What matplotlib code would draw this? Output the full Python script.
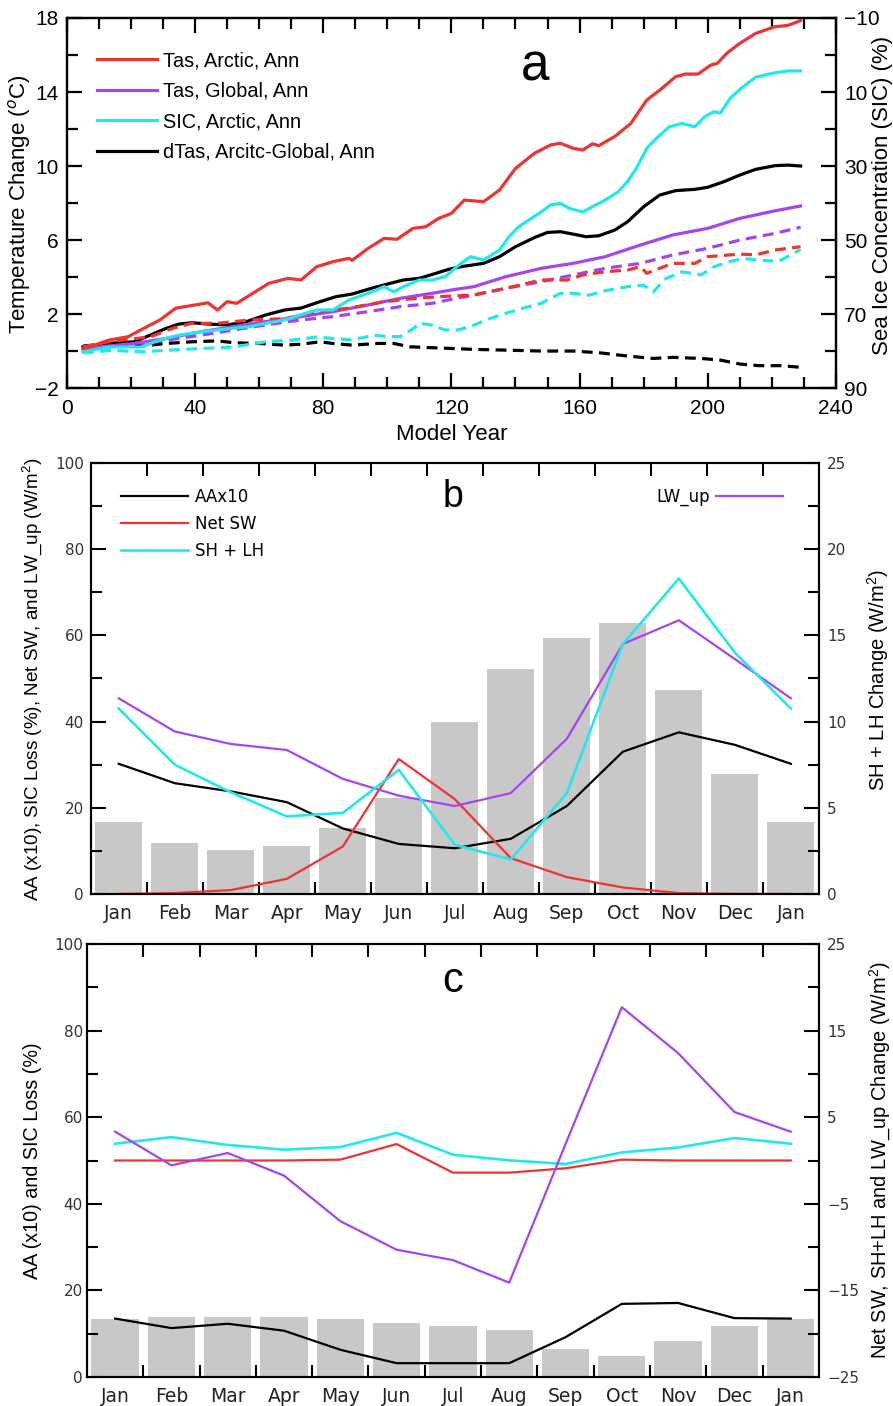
import matplotlib
matplotlib.use("Agg")
import matplotlib.pyplot as plt
import numpy as np

plt.rcParams['font.family'] = ['Liberation Sans', 'DejaVu Sans']
plt.rcParams['mathtext.fontset'] = 'custom'
plt.rcParams['mathtext.rm'] = 'Liberation Sans'

RED = '#ee3333'
PURPLE = '#a445ee'
CYAN = '#22e8ee'
BLACK = '#000000'
GRAY = '#c8c8c8'

# ---------------- Panel a data ----------------
tas_arctic_yr = [5, 13, 19, 24, 29, 34, 40, 44, 47, 50, 53, 58, 63, 69, 73, 78, 83, 88, 89, 94, 99, 103, 108, 112,
                 116, 120, 124, 130, 135, 140, 146, 151, 154, 158, 161, 164, 166, 171, 176, 181, 185, 190, 193, 197,
                 201, 203, 206, 210, 215, 221, 225, 229]
tas_arctic = [0.09, 0.59, 0.77, 1.23, 1.68, 2.32, 2.49, 2.61, 2.22, 2.67, 2.58, 3.12, 3.66, 3.93, 3.84, 4.56, 4.83,
              5.01, 4.90, 5.55, 6.09, 6.04, 6.63, 6.72, 7.17, 7.44, 8.16, 8.07, 8.70, 9.87, 10.70, 11.14, 11.23,
              10.96, 10.86, 11.20, 11.10, 11.60, 12.30, 13.57, 14.10, 14.83, 14.97, 14.97, 15.46, 15.55, 16.10,
              16.63, 17.17, 17.53, 17.60, 17.86]

tas_global_yr = [5, 21, 31, 42, 52, 62, 73, 83, 94, 104, 114, 120, 127, 137, 148, 158, 168, 179, 189, 200, 210, 221, 229]
tas_global = [0.14, 0.41, 0.68, 1.05, 1.32, 1.59, 1.86, 2.13, 2.49, 2.85, 3.12, 3.30, 3.48, 4.02, 4.47, 4.74, 5.10,
              5.73, 6.27, 6.63, 7.17, 7.58, 7.84]

sic_arctic_yr = [5, 13, 23, 29, 35, 42, 47, 52, 57, 62, 68, 73, 78, 83, 88, 94, 99, 102, 105, 110, 114, 118, 123, 126,
                 130, 135, 138, 141, 145, 148, 151, 154, 157, 161, 164, 168, 172, 175, 178, 181, 184, 188, 192, 196,
                 199, 202, 204, 207, 211, 215, 221, 225, 229]
sic_arctic = [80.2, 78.9, 78.9, 77.0, 75.7, 74.8, 74.3, 73.8, 73.4, 72.5, 71.6, 70.2, 68.9, 68.9, 66.2, 64.4, 62.6,
              64.0, 62.6, 60.8, 60.8, 59.9, 56.3, 54.5, 55.4, 52.7, 49.1, 46.4, 44.1, 42.4, 40.5, 40.1, 41.5, 42.4,
              41.0, 39.2, 37.0, 34.2, 30.2, 25.2, 22.5, 19.4, 18.5, 19.4, 16.7, 15.3, 15.7, 11.7, 8.6, 6.0, 4.8,
              4.3, 4.3]

dtas_yr = [5, 13, 21, 26, 31, 35, 39, 44, 50, 56, 62, 68, 73, 79, 84, 89, 95, 100, 105, 110, 114, 119, 123, 130, 135,
           140, 146, 150, 154, 158, 162, 166, 171, 175, 180, 185, 190, 196, 200, 205, 210, 215, 221, 225, 229]
dtas = [0.23, 0.41, 0.50, 0.86, 1.23, 1.46, 1.53, 1.46, 1.41, 1.59, 1.95, 2.22, 2.32, 2.67, 2.94, 3.08, 3.39, 3.62,
        3.84, 3.93, 4.14, 4.41, 4.56, 4.74, 5.10, 5.64, 6.14, 6.41, 6.45, 6.32, 6.18, 6.23, 6.54, 6.99, 7.80, 8.43,
        8.67, 8.74, 8.85, 9.15, 9.51, 9.82, 10.02, 10.05, 10.00]

# dashed (second experiment)
tas_arctic2_yr = [5, 13, 26, 33, 39, 47, 57, 68, 78, 88, 99, 109, 116, 127, 137, 148, 156, 161, 168, 175, 179, 181,
                  189, 196, 200, 210, 215, 221, 225, 229]
tas_arctic2 = [0.23, 0.50, 0.77, 1.23, 1.50, 1.50, 1.68, 1.75, 2.13, 2.32, 2.67, 2.85, 2.94, 3.03, 3.39, 3.84, 3.84,
               4.11, 4.29, 4.38, 4.56, 4.20, 4.74, 4.74, 5.10, 5.24, 5.20, 5.46, 5.55, 5.64]

tas_global2_yr = [5, 21, 31, 42, 52, 62, 73, 83, 94, 104, 114, 119, 127, 137, 148, 158, 168, 179, 189, 200, 210, 221, 229]
tas_global2 = [0.05, 0.41, 0.59, 0.86, 1.14, 1.41, 1.68, 1.86, 2.13, 2.40, 2.58, 2.76, 3.03, 3.39, 3.75, 4.11, 4.47,
               4.74, 5.19, 5.55, 6.00, 6.36, 6.69]

sic_arctic2_yr = [5, 14, 23, 31, 42, 52, 62, 71, 78, 83, 89, 96, 100, 104, 108, 110, 114, 118, 122, 127, 132, 137, 142,
                  148, 154, 158, 163, 168, 175, 180, 183, 187, 192, 198, 202, 207, 211, 216, 222, 226, 229]
sic_arctic2 = [80.5, 79.8, 80.2, 79.8, 79.3, 78.9, 77.5, 77.0, 76.2, 76.6, 77.0, 75.7, 76.1, 76.1, 74.0, 72.5, 73.0,
               74.3, 74.3, 73.0, 71.2, 69.8, 68.5, 67.1, 64.4, 64.4, 64.9, 63.7, 62.6, 62.2, 64.0, 60.4, 58.6, 59.4,
               57.2, 55.8, 55.0, 55.4, 55.8, 54.0, 52.5]

dtas2_yr = [5, 14, 23, 31, 39, 47, 52, 60, 68, 73, 79, 83, 89, 97, 102, 107, 114, 120, 127, 137, 148, 158, 166, 175,
            183, 189, 198, 204, 210, 216, 223, 229]
dtas2 = [0.27, 0.41, 0.27, 0.41, 0.50, 0.55, 0.45, 0.41, 0.32, 0.37, 0.50, 0.41, 0.32, 0.41, 0.41, 0.23, 0.18, 0.14,
         0.09, 0.05, 0.00, 0.00, -0.09, -0.27, -0.40, -0.34, -0.40, -0.49, -0.70, -0.79, -0.79, -0.88]

# ---------------- Panel b / c data ----------------
months = ['Jan', 'Feb', 'Mar', 'Apr', 'May', 'Jun', 'Jul', 'Aug', 'Sep', 'Oct', 'Nov', 'Dec', 'Jan']

b_sic_loss = [16.8, 11.8, 10.2, 11.2, 15.3, 22.2, 39.8, 52.3, 59.3, 62.8, 47.3, 27.8, 16.8]
b_aa10 = [30.2, 25.7, 23.8, 21.3, 15.2, 11.6, 10.6, 12.8, 20.4, 33.0, 37.5, 34.6, 30.2]
b_netsw = [0.0, 0.2, 0.9, 3.5, 11.0, 31.3, 22.0, 8.3, 3.9, 1.5, 0.2, 0.0, 0.0]
b_lwup = [45.4, 37.7, 34.8, 33.4, 26.7, 22.8, 20.4, 23.4, 36.0, 58.0, 63.5, 54.5, 45.4]
b_shlh = [10.75, 7.5, 5.9, 4.5, 4.7, 7.2, 2.85, 2.0, 5.85, 14.5, 18.3, 14.0, 10.75]

c_sic_loss = [13.5, 13.9, 13.9, 13.9, 13.5, 12.5, 11.9, 10.9, 6.4, 4.9, 8.3, 11.9, 13.5]
c_aa10 = [13.5, 11.3, 12.3, 10.7, 6.3, 3.2, 3.2, 3.2, 9.2, 16.9, 17.1, 13.6, 13.5]
c_netsw = [0.0, 0.0, 0.0, 0.0, 0.1, 1.9, -1.4, -1.4, -0.9, 0.1, 0.0, 0.0, 0.0]
c_shlh = [1.94, 2.7, 1.8, 1.25, 1.55, 3.2, 0.67, 0.02, -0.4, 0.94, 1.5, 2.6, 1.94]
c_lwup = [3.33, -0.56, 0.87, -1.75, -7.0, -10.3, -11.5, -14.1, 1.9, 17.7, 12.4, 5.6, 3.33]

# ---------------- Figure ----------------
fig = plt.figure(figsize=(8.93, 14.06), dpi=100)

# ===== Panel a =====
axa = fig.add_axes([0.075, 0.724, 0.861, 0.2632])
axa2 = axa.twinx()
lw_a = 2.3
dash = (3.4, 2.0)
l1, = axa.plot(tas_arctic_yr, tas_arctic, color=RED, lw=lw_a, label='Tas, Arctic, Ann', zorder=5)
l2, = axa.plot(tas_global_yr, tas_global, color=PURPLE, lw=lw_a, label='Tas, Global, Ann', zorder=4)
l4, = axa.plot(dtas_yr, dtas, color=BLACK, lw=lw_a, label='dTas, Arcitc-Global, Ann', zorder=3)
axa.plot(tas_arctic2_yr, tas_arctic2, color=RED, lw=lw_a, dashes=dash, zorder=4)
axa.plot(tas_global2_yr, tas_global2, color=PURPLE, lw=lw_a, dashes=dash, zorder=3)
axa.plot(dtas2_yr, dtas2, color=BLACK, lw=lw_a, dashes=dash, zorder=3)
l3, = axa2.plot(sic_arctic_yr, sic_arctic, color=CYAN, lw=lw_a, label='SIC, Arctic, Ann')
axa2.plot(sic_arctic2_yr, sic_arctic2, color=CYAN, lw=lw_a, dashes=dash)

axa.set_xlim(0, 240)
axa.set_ylim(-2, 18)
axa2.set_ylim(90, -10)
axa.set_xticks(np.arange(0, 241, 40))
axa.set_xticks(np.arange(0, 241, 10), minor=True)
axa.set_yticks(np.arange(-2, 19, 4))
axa.set_yticks(np.arange(-2, 19, 2), minor=True)
axa2.set_yticks(np.arange(-10, 91, 20))
axa2.set_yticks(np.arange(-10, 91, 10), minor=True)
axa.set_yticklabels(['\u22122', '2', '6', '10', '14', '18'])
axa2.set_yticklabels(['\u221210', '10', '30', '50', '70', '90'])
axa.tick_params(axis='both', which='both', direction='in', top=True, width=1.6, labelsize=15)
axa.tick_params(axis='y', which='both', right=False, pad=6)
axa.tick_params(which='major', length=11)
axa.tick_params(which='minor', length=8)
axa.tick_params(axis='x', which='both', pad=8)
axa2.tick_params(axis='y', which='both', direction='in', width=1.6, labelsize=15, pad=6)
axa2.tick_params(which='major', length=11)
axa2.tick_params(which='minor', length=8)
for sp in list(axa.spines.values()) + list(axa2.spines.values()):
    sp.set_linewidth(1.6)
axa.set_xlabel('Model Year', fontsize=16, labelpad=4)
axa.set_ylabel('Temperature Change ($^o$C)', fontsize=16)
axa.yaxis.set_label_coords(-0.044, 0.497)
axa2.set_ylabel('Sea Ice Concentration (SIC) (%)', fontsize=16)
axa2.yaxis.set_label_coords(1.047, 0.52)
axa.text(0.609, 0.868, 'a', transform=axa.transAxes, fontsize=37, ha='center', va='center')
axa.legend(handles=[l1, l2, l3, l4], loc='upper left', bbox_to_anchor=(0.039, 0.91), frameon=False,
           fontsize=14.3, handlelength=3.0, handletextpad=0.3, labelspacing=0.58, borderaxespad=0, borderpad=0)


def monthly_axes(rect, left_lim, right_lim):
    ax = fig.add_axes(rect)
    ax2 = ax.twinx()
    x = np.arange(len(months))
    ax.set_xlim(-0.5, len(months) - 0.5)
    ax.set_xticks(x)
    ax.set_xticklabels(months)
    ax.set_xticks(np.arange(0.5, len(months) - 1, 1.0), minor=True)
    ax.tick_params(axis='x', which='major', length=0, labelsize=13.5, pad=7, labelcolor='#222222')
    ax.tick_params(axis='x', which='minor', direction='in', length=9, width=1.5, top=True, bottom=True)
    ax.set_ylim(*left_lim)
    ax2.set_ylim(*right_lim)
    ax.tick_params(axis='y', which='both', direction='in', width=1.5, labelsize=11, labelcolor='#333333', pad=5)
    ax.tick_params(axis='y', which='major', length=11)
    ax.tick_params(axis='y', which='minor', length=8)
    ax2.tick_params(axis='y', which='both', direction='in', width=1.5, labelsize=11, labelcolor='#333333', pad=6)
    ax2.tick_params(axis='y', which='major', length=11)
    ax2.tick_params(axis='y', which='minor', length=8)
    for sp in list(ax.spines.values()) + list(ax2.spines.values()):
        sp.set_linewidth(1.5)
    return ax, ax2, x


def dejavu_ticks(ax, ax2):
    for lbl in ax.get_xticklabels() + ax.get_yticklabels() + ax2.get_yticklabels():
        lbl.set_fontfamily('DejaVu Sans')


# ===== Panel b =====
axb, axb2, xb = monthly_axes([0.1016, 0.3642, 0.8154, 0.3065], (0, 100), (0, 25))
axb.bar(xb, b_sic_loss, width=0.84, color=GRAY, zorder=1)
lw_b = 1.6
hb1, = axb.plot(xb, b_aa10, color=BLACK, lw=lw_b, label='AAx10', zorder=3)
hb2, = axb.plot(xb, b_netsw, color=RED, lw=lw_b, label='Net SW', zorder=3)
hb4, = axb.plot(xb, b_lwup, color=PURPLE, lw=lw_b, label='LW_up', zorder=3)
hb3, = axb2.plot(xb, b_shlh, color=CYAN, lw=lw_b + 0.3, label='SH + LH')
axb.set_yticks(np.arange(0, 101, 20))
axb.set_yticks(np.arange(0, 101, 10), minor=True)
axb2.set_yticks(np.arange(0, 26, 5))
axb2.set_yticks(np.arange(0, 26, 2.5), minor=True)
dejavu_ticks(axb, axb2)
axb.set_ylabel('AA (x10), SIC Loss (%), Net SW, and LW_up (W/m$^2$)', fontsize=13.6)
axb.yaxis.set_label_coords(-0.063, 0.497)
axb2.set_ylabel('SH + LH Change (W/m$^2$)', fontsize=14.5)
axb2.yaxis.set_label_coords(1.064, 0.497)
axb.text(0.497, 0.921, 'b', transform=axb.transAxes, fontsize=27, ha='center', va='center')
leg1 = axb.legend(handles=[hb1, hb2, hb3], loc='upper left', bbox_to_anchor=(0.042, 0.942), frameon=False,
                  prop={'family': 'DejaVu Sans', 'size': 12}, handlelength=4.0, handletextpad=0.4,
                  labelspacing=0.55, borderaxespad=0, borderpad=0)
axb.add_artist(leg1)
axb.legend(handles=[hb4], loc='upper right', bbox_to_anchor=(0.9506, 0.942), frameon=False,
           prop={'family': 'DejaVu Sans', 'size': 12}, handlelength=4.0, handletextpad=0.4,
           markerfirst=False, borderaxespad=0, borderpad=0)

# ===== Panel c =====
axc, axc2, xc = monthly_axes([0.0974, 0.0206, 0.8196, 0.308], (0, 100), (-25, 25))
axc.bar(xc, c_sic_loss, width=0.84, color=GRAY, zorder=1)
axc.plot(xc, c_aa10, color=BLACK, lw=lw_b, zorder=3)
axc2.plot(xc, c_netsw, color=RED, lw=lw_b)
axc2.plot(xc, c_shlh, color=CYAN, lw=lw_b + 0.3)
axc2.plot(xc, c_lwup, color=PURPLE, lw=lw_b)
axc.set_yticks(np.arange(0, 101, 20))
axc.set_yticks(np.arange(0, 101, 10), minor=True)
axc2.set_yticks(np.arange(-25, 26, 10))
axc2.set_yticks(np.arange(-25, 26, 5), minor=True)
axc2.set_yticklabels(['\u221225', '\u221215', '\u22125', '5', '15', '25'])
axc.tick_params(axis='y', pad=3)
dejavu_ticks(axc, axc2)
axc.set_ylabel('AA (x10) and SIC Loss (%)', fontsize=14.2)
axc.yaxis.set_label_coords(-0.061, 0.499)
axc2.set_ylabel('Net SW, SH+LH and LW_up Change (W/m$^2$)', fontsize=14.4)
axc2.yaxis.set_label_coords(1.066, 0.5)
axc.text(0.5, 0.915, 'c', transform=axc.transAxes, fontsize=30, ha='center', va='center')

fig.savefig('out.png', dpi=100)
